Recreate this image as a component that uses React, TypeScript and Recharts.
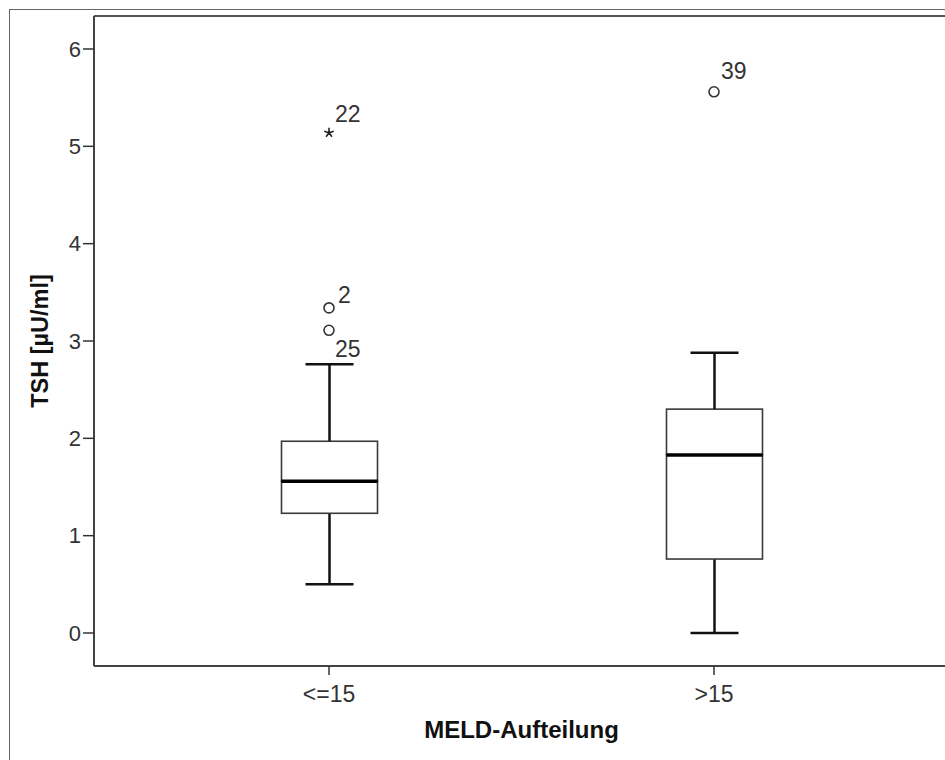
import React from 'react';
import { ComposedChart, Bar, Scatter, XAxis, YAxis, ReferenceLine, Label } from 'recharts';

// ---- data ----
const CATEGORIES = ['<=15', '>15'];
const WHISKER_MIN = [0.5, 0.0];
const Q1 = [1.23, 0.76];
const MEDIAN = [1.56, 1.83];
const Q3 = [1.97, 2.3];
const WHISKER_MAX = [2.76, 2.88];

const OUTLIER_CATS = ['<=15', '<=15', '<=15', '>15'];
const OUTLIER_VALUES = [5.14, 3.34, 3.11, 5.56];
const OUTLIER_IDS = ['22', '2', '25', '39'];
const OUTLIER_KINDS = ['extreme', 'outlier', 'outlier', 'outlier'];

const Y_TICKS = [0, 1, 2, 3, 4, 5, 6];
const Y_DOMAIN: [number, number] = [-0.339, 6.339];
const X_TITLE = 'MELD-Aufteilung';
const Y_TITLE = 'TSH [µU/ml]';

// ---- styles ----
const FONT = '"Liberation Sans", Arial, Helvetica, sans-serif';
const LABEL_OFFSETS: Record<string, [number, number]> = {
  '22': [6, -11],
  '2': [9, -5],
  '25': [6, 27],
  '39': [7, -13],
};

const boxData = CATEGORIES.map((cat, i) => ({
  cat,
  base: WHISKER_MIN[i],
  wLow: Q1[i] - WHISKER_MIN[i],
  bLow: MEDIAN[i] - Q1[i],
  bHigh: Q3[i] - MEDIAN[i],
  wHigh: WHISKER_MAX[i] - Q3[i],
}));

const outlierData = OUTLIER_VALUES.map((v, i) => ({
  cat: OUTLIER_CATS[i],
  value: v,
  id: OUTLIER_IDS[i],
  kind: OUTLIER_KINDS[i],
}));

const CAP = 24;
const WHISKER_COLOR = '#111';

const Empty = () => null;

const WhiskerLow = (p: any) => {
  const { x, y, width, height } = p;
  const cx = x + width / 2;
  return (
    <g>
      <line x1={cx} x2={cx} y1={y} y2={y + height} stroke={WHISKER_COLOR} strokeWidth={2.5} />
      <line x1={cx - CAP} x2={cx + CAP} y1={y + height} y2={y + height} stroke={WHISKER_COLOR} strokeWidth={2.5} />
    </g>
  );
};

const WhiskerHigh = (p: any) => {
  const { x, y, width, height } = p;
  const cx = x + width / 2;
  return (
    <g>
      <line x1={cx} x2={cx} y1={y} y2={y + height} stroke={WHISKER_COLOR} strokeWidth={2.5} />
      <line x1={cx - CAP} x2={cx + CAP} y1={y} y2={y} stroke={WHISKER_COLOR} strokeWidth={2.5} />
    </g>
  );
};

const BoxLow = (p: any) => {
  const { x, y, width, height } = p;
  return <rect x={x} y={y} width={width} height={height} fill="#fff" stroke="#3a3a3a" strokeWidth={1.6} />;
};

const BoxHigh = (p: any) => {
  const { x, y, width, height } = p;
  return (
    <g>
      <rect x={x} y={y} width={width} height={height} fill="#fff" stroke="#3a3a3a" strokeWidth={1.6} />
      <line x1={x} x2={x + width} y1={y + height} y2={y + height} stroke="#000" strokeWidth={3.5} />
    </g>
  );
};

const OutlierShape = (p: any) => {
  const { cx, cy, payload } = p;
  const [dx, dy] = LABEL_OFFSETS[payload.id] || [6, -6];
  let marker;
  if (payload.kind === 'extreme') {
    const r = 5;
    const arms = [-90, -18, 54, 126, 198].map((a) => {
      const rad = (a * Math.PI) / 180;
      return `M${cx},${cy}L${cx + r * Math.cos(rad)},${cy + r * Math.sin(rad)}`;
    });
    marker = <path d={arms.join('')} stroke="#222" strokeWidth={1.6} fill="none" />;
  } else {
    marker = <circle cx={cx} cy={cy} r={5} fill="none" stroke="#333" strokeWidth={1.6} />;
  }
  return (
    <g>
      {marker}
      <text x={cx + dx} y={cy + dy} fontSize={23} fill="#333" fontFamily={FONT}>
        {payload.id}
      </text>
    </g>
  );
};

export default function App() {
  return (
    <div
      style={{
        position: 'fixed',
        left: 0,
        top: 0,
        width: 945,
        height: 760,
        overflow: 'hidden',
        background: '#fff',
        fontFamily: FONT,
      }}
    >
      <div
        style={{
          position: 'absolute',
          left: 9,
          top: 9,
          width: 2000,
          height: 2000,
          borderLeft: '1px solid #666',
          borderTop: '1px solid #666',
        }}
      />
      <div style={{ position: 'absolute', left: 8, top: 8 }}>
        <ComposedChart
          width={960}
          height={752}
          data={boxData}
          margin={{ top: 8, right: 19, bottom: 0, left: 0 }}
          barSize={96}
        >
          <XAxis
            dataKey="cat"
            type="category"
            allowDuplicatedCategory={false}
            padding={{ left: 42.5, right: 42.5 }}
            height={94}
            tickSize={9}
            tickMargin={11}
            axisLine={{ stroke: '#444', strokeWidth: 2 }}
            tickLine={{ stroke: '#333', strokeWidth: 1.5 }}
            tick={{ fill: '#333', fontSize: 23, fontFamily: FONT }}
          >
            <Label
              content={(props: any) => {
                const vb = props.viewBox;
                return (
                  <text
                    x={vb.x + vb.width / 2}
                    y={vb.y + 72}
                    textAnchor="middle"
                    fontSize={24}
                    fontWeight="bold"
                    fill="#111"
                    fontFamily={FONT}
                  >
                    {X_TITLE}
                  </text>
                );
              }}
            />
          </XAxis>
          <YAxis
            type="number"
            domain={Y_DOMAIN}
            ticks={Y_TICKS}
            allowDataOverflow
            width={86}
            tickSize={11}
            tickMargin={2}
            axisLine={{ stroke: '#444', strokeWidth: 2 }}
            tickLine={{ stroke: '#333', strokeWidth: 1.5 }}
            tick={{ fill: '#333', fontSize: 22, fontFamily: FONT }}
          >
            <Label
              content={(props: any) => {
                const vb = props.viewBox;
                const cx = 40;
                const cy = vb.y + vb.height / 2;
                return (
                  <text
                    x={cx}
                    y={cy}
                    transform={`rotate(-90 ${cx} ${cy})`}
                    textAnchor="middle"
                    fontSize={23.5}
                    fontWeight="bold"
                    fill="#111"
                    fontFamily={FONT}
                  >
                    {Y_TITLE}
                  </text>
                );
              }}
            />
          </YAxis>
          <ReferenceLine y={Y_DOMAIN[1]} stroke="#555" strokeWidth={2} />
          <Bar dataKey="base" stackId="box" shape={Empty} isAnimationActive={false} />
          <Bar dataKey="wLow" stackId="box" shape={WhiskerLow} isAnimationActive={false} />
          <Bar dataKey="bLow" stackId="box" shape={BoxLow} isAnimationActive={false} />
          <Bar dataKey="bHigh" stackId="box" shape={BoxHigh} isAnimationActive={false} />
          <Bar dataKey="wHigh" stackId="box" shape={WhiskerHigh} isAnimationActive={false} />
          <Scatter data={outlierData} dataKey="value" shape={OutlierShape} isAnimationActive={false} />
        </ComposedChart>
      </div>
    </div>
  );
}
